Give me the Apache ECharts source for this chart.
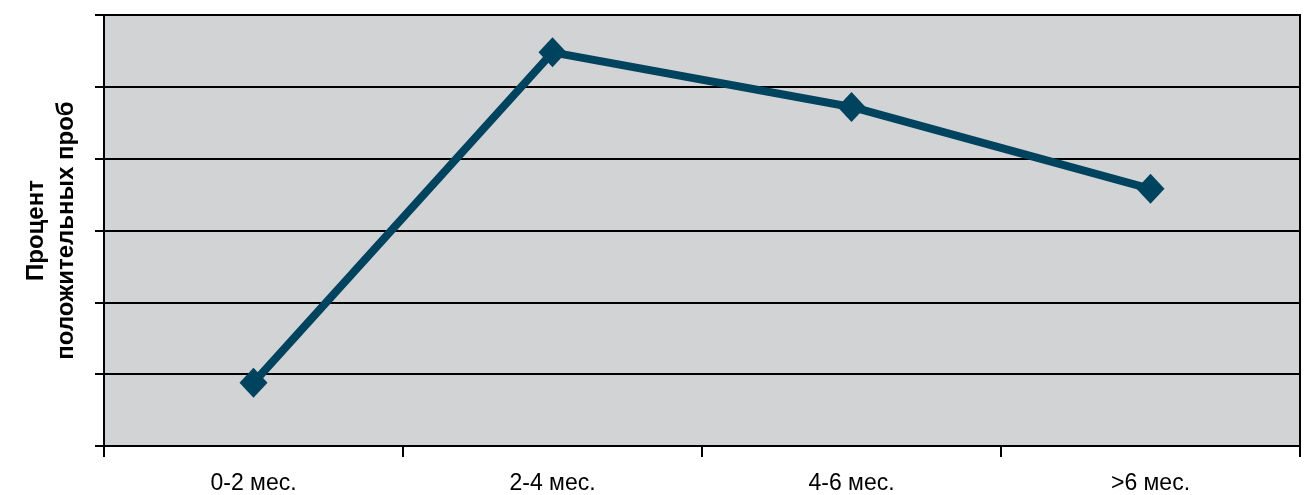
<!DOCTYPE html>
<html>
<head>
<meta charset="utf-8">
<script src="https://cdn.jsdelivr.net/npm/echarts@6/dist/echarts.min.js"></script>
<style>
  html, body { margin: 0; padding: 0; background: #ffffff; }
  #chart { width: 1313px; height: 495px; }
</style>
</head>
<body>
<div id="chart"></div>
<script>
// Age groups on the x axis
const categories = ['0-2 мес.', '2-4 мес.', '4-6 мес.', '>6 мес.'];
// Share of positive samples, percent
const positiveShare = [4.4, 27.4, 23.6, 17.9];
const yAxisTitle = 'Процент\nположительных проб';

const chart = echarts.init(document.getElementById('chart'), null, { renderer: 'canvas' });

chart.setOption({
  animation: false,
  backgroundColor: '#ffffff',
  grid: {
    left: 104, right: 13, top: 15, bottom: 49,
    containLabel: false,
    outerBoundsMode: 'none',
    show: true,
    backgroundColor: '#d2d3d5',
    borderColor: '#000000',
    borderWidth: 2
  },
  xAxis: {
    type: 'category',
    data: categories,
    boundaryGap: true,
    axisLine: { show: true, lineStyle: { color: '#000000', width: 2 } },
    axisTick: { show: true, length: 11, lineStyle: { color: '#000000', width: 2 } },
    axisLabel: {
      color: '#000000', fontSize: 23, margin: 26,
      fontFamily: 'Liberation Sans, Arial, sans-serif'
    },
    splitLine: { show: false }
  },
  yAxis: {
    type: 'value',
    min: 0, max: 30, interval: 5,
    name: yAxisTitle,
    nameLocation: 'middle',
    nameRotate: 90,
    nameGap: 23,
    nameTextStyle: {
      color: '#000000', fontSize: 24, fontWeight: 'bold', lineHeight: 30,
      fontFamily: 'Liberation Sans, Arial, sans-serif'
    },
    axisLine: { show: true, lineStyle: { color: '#000000', width: 2 } },
    axisTick: { show: true, length: 9, lineStyle: { color: '#000000', width: 2 } },
    axisLabel: { show: false },
    splitLine: { show: true, lineStyle: { color: '#000000', width: 2 } }
  },
  series: [{
    type: 'line',
    data: positiveShare,
    symbol: 'diamond',
    symbolSize: [28, 30],
    lineStyle: { color: '#00435f', width: 8 },
    itemStyle: { color: '#00435f' },
    z: 5
  }]
});
</script>
</body>
</html>
